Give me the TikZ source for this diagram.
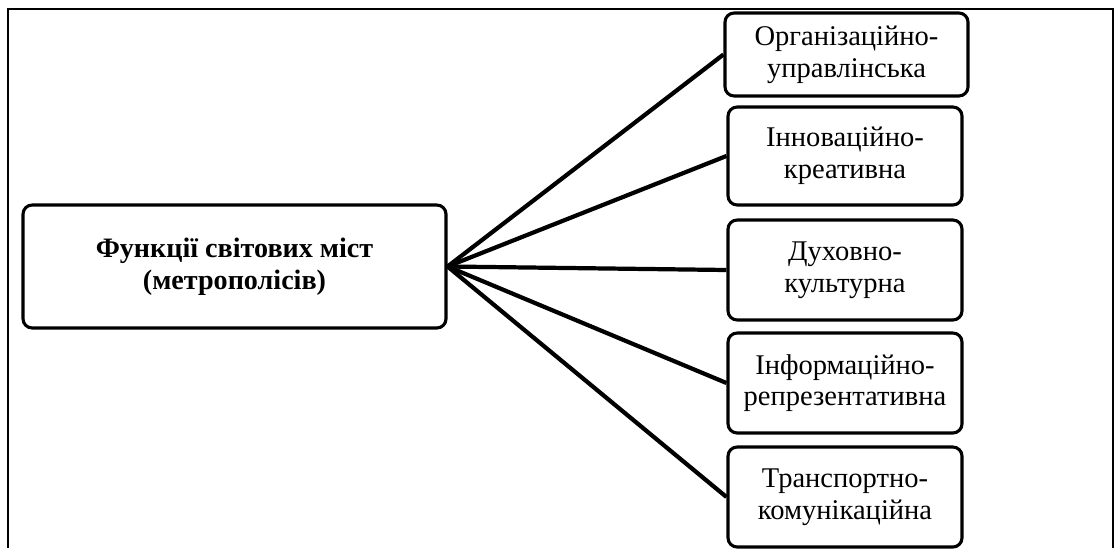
\documentclass[tikz,border=0pt]{standalone}
\usepackage{fontspec}
\setmainfont{Liberation Serif}
\usepackage{tikz}

\tikzset{
  funcbox/.style={draw,line width=2.2pt,rounded corners=6.5pt,align=center,inner sep=0pt,
    font=\fontsize{20.3}{22.5}\selectfont},
  sidebox/.style={funcbox,minimum width=5.85cm,minimum height=2.5cm},
  link/.style={line width=3pt}
}

\begin{document}
\begin{tikzpicture}
  \useasboundingbox (0,0) rectangle (28,13.7);
  \draw[line width=2pt] (0.2,0) -- (0.2,13.475) -- (27.825,13.475) -- (27.825,0);
  \node[funcbox,minimum width=10.575cm,minimum height=3.075cm,font=\bfseries\fontsize{20}{23}\selectfont] (main) at (5.8625,7.0375) {Функції світових міст\\(метрополісів)};
  \node[sidebox,minimum width=6.075cm,minimum height=2.075cm] (org) at (21.1625,12.3375) {Організаційно-\\управлінська};
  \node[sidebox,minimum height=2.45cm] (innov) at (21.125,9.8) {Інноваційно-\\креативна};
  \node[sidebox] (cult) at (21.125,6.95) {Духовно-\\культурна};
  \node[sidebox] (info) at (21.125,4.125) {Інформаційно-\\репрезентативна};
  \node[sidebox] (trans) at (21.125,1.275) {Транспортно-\\комунікаційна};
  \foreach \b in {org,innov,cult,info,trans}
    \draw[link] (main.east) -- (\b.west);
\end{tikzpicture}
\end{document}
